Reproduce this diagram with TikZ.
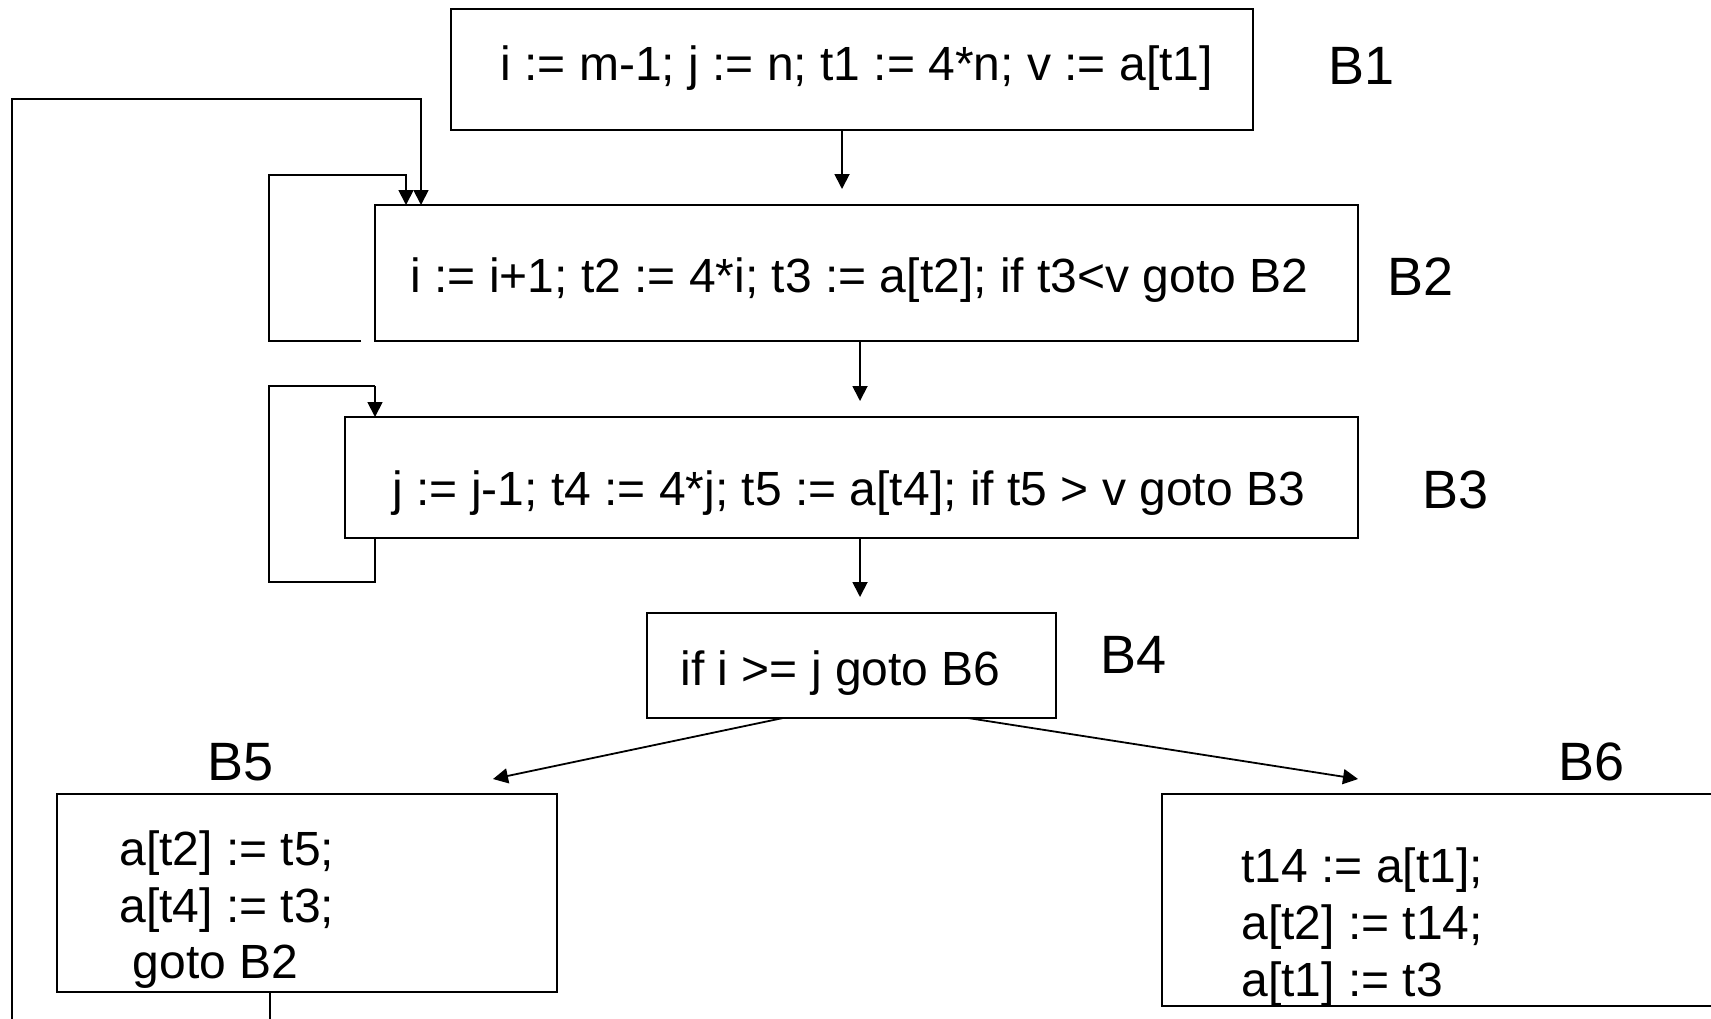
\documentclass[tikz,border=0pt]{standalone}
\usepackage{fontspec}
\setmainfont{Liberation Sans}
\usetikzlibrary{arrows.meta,calc}
\begin{document}
\begin{tikzpicture}[x=0.5pt,y=-0.5pt,
  block/.style={draw, line width=1pt, rectangle, inner sep=0pt, outer sep=0pt, anchor=north west},
  code/.style={inner sep=0pt, anchor=base west, font=\fontsize{24pt}{28.8pt}\selectfont},
  tag/.style={inner sep=0pt, anchor=base west, font=\fontsize{27pt}{32pt}\selectfont},
  flow/.style={line width=0.9pt, -{Triangle[length=7.5pt,width=7.5pt]}},
  wire/.style={line width=0.9pt}]
\useasboundingbox (0,0) rectangle (1711,1018);
\clip (0,0) rectangle (1711,1018);

% basic blocks
\node[block, minimum width=401pt,   minimum height=60.5pt] (b1) at (451,9) {};
\node[block, minimum width=491.5pt, minimum height=68pt]   (b2) at (375,205) {};
\node[block, minimum width=506.5pt, minimum height=60.5pt] (b3) at (345,417) {};
\node[block, minimum width=204.5pt, minimum height=52.5pt] (b4) at (647,613) {};
\node[block, minimum width=250pt,   minimum height=99pt]   (b5) at (57,794) {};
\node[block, minimum width=300pt,   minimum height=106pt]  (b6) at (1162,794) {};

% block contents
\node[code] (c1) at (500,80)  {i := m-1; j := n; t1 := 4*n; v := a[t1]};
\node[code] (c2) at (410,292) {i := i+1; t2 := 4*i; t3 := a[t2]; if t3<v goto B2};
\node[code] (c3) at (392,505) {j := j-1; t4 := 4*j; t5 := a[t4]; if t5 > v goto B3};
\node[code] (c4) at (680,685) {if i >= j goto B6};
\node[code] (c5a) at (119,865) {a[t2] := t5;};
\node[code] (c5b) at (119,922) {a[t4] := t3;};
\node[code] (c5c) at (119,978) {\ goto B2};
\node[code] (c6a) at (1241,882) {t14 := a[t1];};
\node[code] (c6b) at (1241,939) {a[t2] := t14;};
\node[code] (c6c) at (1241,996) {a[t1] := t3};

% block names
\node[tag] (n1) at (1328,84)  {B1};
\node[tag] (n2) at (1387,295) {B2};
\node[tag] (n3) at (1422,508) {B3};
\node[tag] (n4) at (1100,673) {B4};
\node[tag] (n5) at (207,780)  {B5};
\node[tag] (n6) at (1558,780) {B6};

% fall-through edges
\coordinate (s12) at ([xshift=-5pt]b1.south);
\draw[flow, shorten >=8pt] (s12) -- (s12 |- b2.north);
\coordinate (s23) at ([xshift=-3.25pt]b2.south);
\draw[flow, shorten >=8pt] (s23) -- (s23 |- b3.north);
\coordinate (s34) at ([xshift=4.25pt]b3.south);
\draw[flow, shorten >=8pt] (s34) -- (s34 |- b4.north);

% branches out of B4
\coordinate (s45) at ([xshift=-34.25pt]b4.south);
\coordinate (e45) at ([xshift=218pt, yshift=7.5pt]b5.north west);
\draw[flow] (s45) -- (e45);
\coordinate (s46) at ([xshift=58.25pt]b4.south);
\coordinate (e46) at ([xshift=98pt, yshift=7.5pt]b6.north west);
\draw[flow] (s46) -- (e46);

% loop B2 -> B2
\coordinate (s22) at ([xshift=-7pt]b2.south west);
\coordinate (e22) at ([xshift=15.5pt]b2.north west);
\draw[flow] (s22) -| (269,175) -| (e22);

% loop B3 -> B3
\coordinate (s33) at ([xshift=15pt]b3.south west);
\coordinate (e33) at (s33 |- b3.north);
\draw[wire] (s33) |- (269,582) |- (e33 |- 0,386);
\draw[flow] (e33 |- 0,386) -- (e33);

% back edge B5 -> B2
\coordinate (s52) at ([xshift=-18.5pt]b5.south);
\coordinate (e52) at ([xshift=23pt]b2.north west);
\draw[flow] (s52) |- (12,1040) -- (12,99) -| (e52);
\end{tikzpicture}
\end{document}
